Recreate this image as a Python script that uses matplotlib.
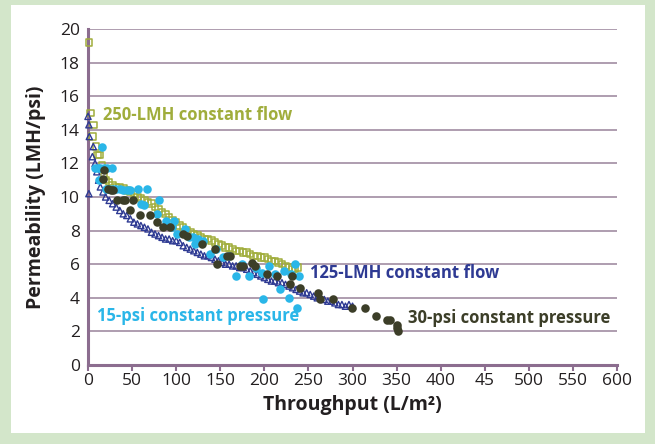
import matplotlib.pyplot as plt
from matplotlib.patches import Rectangle

plt.rcParams['font.family'] = ['Open Sans', 'DejaVu Sans']

# 250-LMH constant flow (open squares)
flow250_x = [1, 3, 6, 5, 9, 11, 13, 16, 18, 20, 24, 28, 32, 36, 40, 44, 48, 52, 56,
             60, 64, 68, 72, 76, 80, 84, 88, 92, 96, 100, 104, 108, 112, 116, 120,
             124, 128, 132, 136, 140, 144, 148, 152, 156, 160, 164, 168, 172, 176,
             180, 184, 188, 192, 196, 200, 204, 208, 212, 216, 220, 224, 228, 232,
             235, 238]
flow250_y = [19.2, 15.0, 14.3, 13.6, 13.0, 12.5, 12.5, 11.9, 11.4, 11.0, 10.9, 10.7,
             10.6, 10.6, 10.5, 10.4, 10.3, 10.2, 10.0, 9.9, 9.8, 9.7, 9.6, 9.4, 9.3,
             9.1, 9.0, 8.8, 8.6, 8.5, 8.3, 8.2, 8.0, 7.9, 7.8, 7.7, 7.6, 7.5, 7.5,
             7.4, 7.3, 7.2, 7.1, 7.0, 7.0, 6.9, 6.8, 6.8, 6.7, 6.7, 6.6, 6.5, 6.5,
             6.4, 6.4, 6.3, 6.2, 6.2, 6.1, 6.0, 5.9, 5.8, 5.7, 5.7, 5.8]

# 125-LMH constant flow (open triangles)
flow125_x = [0, 1, 1.5, 6, 5, 8, 1, 10, 12, 14, 17, 20, 24, 28, 32, 36, 40, 44, 48,
             52, 56, 60, 64, 68, 72, 76, 80, 84, 88, 92, 96, 100, 104, 108, 112, 116,
             120, 124, 128, 132, 136, 140, 144, 148, 152, 156, 160, 164, 168, 172,
             176, 180, 184, 188, 192, 196, 200, 204, 208, 212, 216, 220, 224, 228,
             232, 236, 240, 244, 248, 252, 256, 260, 264, 268, 272, 276, 280, 284,
             288, 292, 296, 300]
flow125_y = [14.8, 14.3, 13.6, 13.0, 12.4, 12.0, 10.2, 11.5, 11.0, 10.6, 10.3, 10.0,
             9.8, 9.6, 9.4, 9.2, 9.0, 8.9, 8.7, 8.5, 8.4, 8.3, 8.2, 8.1, 7.9, 7.8,
             7.7, 7.6, 7.5, 7.5, 7.4, 7.4, 7.3, 7.1, 7.0, 6.9, 6.8, 6.7, 6.6, 6.5,
             6.5, 6.4, 6.3, 6.2, 6.1, 6.0, 6.0, 5.9, 5.9, 5.8, 5.8, 5.7, 5.6, 5.5,
             5.4, 5.3, 5.2, 5.1, 5.0, 5.0, 4.9, 4.9, 4.8, 4.7, 4.6, 4.5, 4.4, 4.3,
             4.3, 4.2, 4.1, 4.0, 4.0, 3.9, 3.8, 3.8, 3.7, 3.6, 3.6, 3.5, 3.6, 3.5]

# 15-psi constant pressure (filled circles)
psi15_x = [16, 8, 11, 14, 18, 22, 27, 13, 20, 24, 28, 32, 36, 40, 44, 48, 57, 67,
           80, 60, 64, 78, 89, 95, 97, 101, 110, 114, 119, 121, 125, 130, 138, 145,
           153, 160, 168, 175, 183, 190, 197, 198, 205, 212, 218, 222, 228, 230,
           235, 237, 239]
psi15_y = [13.0, 11.7, 11.7, 11.7, 11.7, 11.7, 11.7, 11.0, 10.5, 10.5, 10.5, 10.5,
           10.5, 10.4, 10.4, 10.4, 10.5, 10.5, 9.8, 9.6, 9.5, 9.0, 8.6, 8.2, 8.6,
           7.8, 8.1, 7.6, 7.6, 7.2, 7.5, 7.4, 6.6, 6.9, 6.4, 6.5, 5.3, 6.0, 5.3,
           5.8, 5.5, 3.9, 5.9, 5.4, 4.5, 5.6, 4.0, 5.4, 6.0, 3.4, 5.3]

# 30-psi constant pressure (filled circles)
psi30_x = [17, 18, 23, 26, 28, 33, 40, 42, 48, 51, 59, 70, 78, 85, 93, 108, 112, 129,
           144, 146, 158, 161, 172, 176, 186, 189, 203, 214, 229, 231, 240, 261,
           263, 278, 299, 314, 327, 339, 342, 351, 351, 352]
psi30_y = [11.1, 11.6, 10.5, 10.4, 10.4, 9.8, 9.8, 9.8, 9.2, 9.8, 8.9, 8.9, 8.5,
           8.2, 8.2, 7.8, 7.7, 7.2, 6.9, 6.0, 6.5, 6.5, 5.9, 5.9, 6.1, 5.9, 5.4,
           5.3, 4.8, 5.3, 4.6, 4.3, 3.9, 3.9, 3.4, 3.4, 2.9, 2.7, 2.7, 2.4, 2.2,
           2.0]

x_ticks = [0, 50, 100, 150, 200, 250, 300, 350, 400, 450, 500, 550, 600]
x_tick_labels = ['0', '50', '100', '150', '200', '250', '300', '350', '400', '45',
                 '500', '550', '600']
y_ticks = [0, 2, 4, 6, 8, 10, 12, 14, 16, 18, 20]

c_olive = '#a0ad3c'
c_blue = '#2e3a93'
c_cyan = '#2ab6e8'
c_dark = '#3c3e28'
c_axis = '#8c6d8f'
c_grid = '#a895a9'

fig = plt.figure(figsize=(6.55, 4.44), dpi=100)
fig.patch.set_facecolor('#d3e6ca')
fig.add_artist(Rectangle((11 / 655, 1 - 433 / 444), 634 / 655, 428 / 444,
                         transform=fig.transFigure, facecolor='white',
                         edgecolor='none', zorder=0))

ax = fig.add_axes([88 / 655, 1 - 365 / 444, 529 / 655, 336 / 444])
ax.set_facecolor('white')

ax.scatter(flow250_x, flow250_y, marker='s', s=22, facecolors='none',
           edgecolors=c_olive, linewidths=1.1, zorder=3, clip_on=False)
ax.scatter(flow125_x, flow125_y, marker='^', s=20, facecolors='none',
           edgecolors=c_blue, linewidths=1.0, zorder=3, clip_on=False)
ax.scatter(psi15_x, psi15_y, marker='o', s=38, color=c_cyan, linewidths=0, zorder=4)
ax.scatter(psi30_x, psi30_y, marker='o', s=38, color=c_dark, linewidths=0, zorder=5)

ax.text(17, 14.9, '250-LMH constant flow', color=c_olive, fontsize=12,
        fontweight='bold', va='center', ha='left')
ax.text(252, 5.5, '125-LMH constant flow', color=c_blue, fontsize=12,
        fontweight='bold', va='center', ha='left')
ax.text(10, 2.9, '15-psi constant pressure', color=c_cyan, fontsize=12,
        fontweight='bold', va='center', ha='left')
ax.text(363, 2.8, '30-psi constant pressure', color=c_dark, fontsize=12,
        fontweight='bold', va='center', ha='left')

ax.set_xlim(0, 600)
ax.set_ylim(0, 20)
ax.set_xticks(x_ticks)
ax.set_xticklabels(x_tick_labels)
ax.set_yticks(y_ticks)
ax.tick_params(axis='x', length=4, width=1.5, color=c_axis, labelsize=12.5,
               labelcolor='#231f20', pad=2)
ax.tick_params(axis='y', length=0, labelsize=12.5, labelcolor='#231f20', pad=6)
ax.yaxis.grid(True, color=c_grid, linewidth=1.3)
ax.set_axisbelow(True)

for side in ['top', 'right']:
    ax.spines[side].set_visible(False)
for side in ['left', 'bottom']:
    ax.spines[side].set_color(c_axis)
    ax.spines[side].set_linewidth(2.2)

ax.set_xlabel('Throughput (L/m²)', fontsize=14, fontweight='bold',
              color='#231f20', labelpad=4)
ax.set_ylabel('Permeability (LMH/psi)', fontsize=14, fontweight='bold',
              color='#231f20', labelpad=10)

fig.savefig('out.png', dpi=100, facecolor=fig.get_facecolor())
